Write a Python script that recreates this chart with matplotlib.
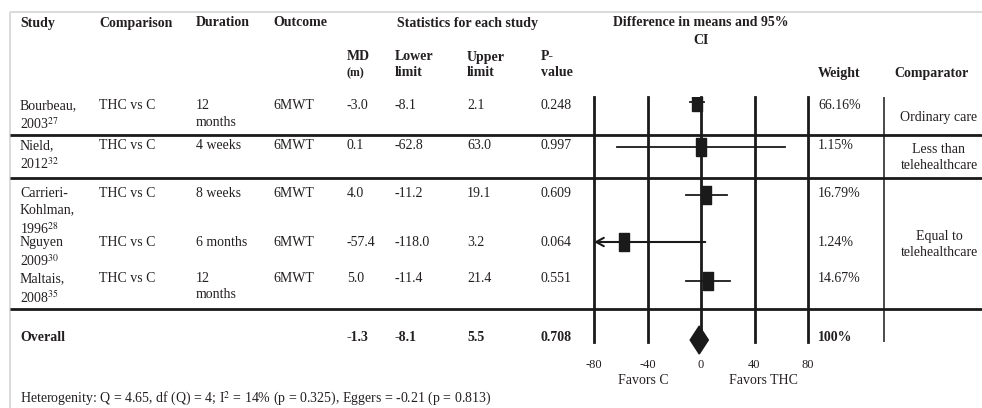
import matplotlib
matplotlib.use("Agg")
import matplotlib.pyplot as plt
from matplotlib.patches import Polygon

plt.rcParams['font.family'] = ['Liberation Serif', 'DejaVu Serif']
plt.rcParams['mathtext.fontset'] = 'stix'
plt.rcParams['axes.unicode_minus'] = False

# ---------------- data ----------------
studies = ["Bourbeau,\n2003$^{27}$", "Nield,\n2012$^{32}$",
           "Carrieri-\nKohlman,\n1996$^{28}$", "Nguyen\n2009$^{30}$",
           "Maltais,\n2008$^{35}$"]
comparison = ["THC vs C", "THC vs C", "THC vs C", "THC vs C", "THC vs C"]
duration = ["12\nmonths", "4 weeks", "8 weeks", "6 months", "12\nmonths"]
outcome = ["6MWT", "6MWT", "6MWT", "6MWT", "6MWT"]
md = [-3.0, 0.1, 4.0, -57.4, 5.0]
lower = [-8.1, -62.8, -11.2, -118.0, -11.4]
upper = [2.1, 63.0, 19.1, 3.2, 21.4]
pval = [0.248, 0.997, 0.609, 0.064, 0.551]
weight = ["66.16%", "1.15%", "16.79%", "1.24%", "14.67%"]
comparators = ["Ordinary care", "Less than\ntelehealthcare", "Equal to\ntelehealthcare"]
overall_md, overall_lo, overall_hi, overall_p, overall_w = -1.3, -8.1, 5.5, 0.708, "100%"
ticks = [-80, -40, 0, 40, 80]
tick_labels = ["-80", "-40", "0", "40", "80"]
footer = "Heterogenity: Q = 4.65, df (Q) = 4; I$^{2}$ = 14% (p = 0.325), Eggers = -0.21 (p = 0.813)"

# ---------------- layout (pixel coordinates) ----------------
W, H = 982, 408
TXT = '#231f20'
FS = 10
col_x = dict(study=20, comp=99, dur=196, out=273, md=347, lo=395, hi=467, p=541, w=818)
row_text_top = [99, 139, 187, 236, 272]
row_mark_y = [102, 147, 195, 242, 281]
overall_text_top = 331
overall_y = 340
comp_cells = [(97, 135), (135, 178), (178, 309)]
hlines = [135, 178, 309]
forest_top, forest_bot = 97, 342
fx0, fx1 = 594, 808

fig = plt.figure(figsize=(W / 100, H / 100), dpi=100)
ax = fig.add_axes([0, 0, 1, 1])
ax.set_xlim(0, W)
ax.set_ylim(H, 0)
ax.axis('off')

# light grey frame
ax.plot([10, 10], [12, H], color='#d4d4d4', lw=1.2, solid_capstyle='butt')
ax.plot([10, W], [12, 12], color='#d4d4d4', lw=1.2, solid_capstyle='butt')

# headers
hb = dict(fontsize=FS, fontweight='bold', color=TXT, va='center')
ax.text(col_x['study'], 23, "Study", **hb)
ax.text(col_x['comp'], 23, "Comparison", **hb)
ax.text(col_x['dur'], 23, "Duration", **hb)
ax.text(col_x['out'], 23, "Outcome", **hb)
ax.text(468, 23, "Statistics for each study", ha='center', **hb)
ax.text(701, 23, "Difference in means and 95%", ha='center', **hb)
ax.text(701, 40, "CI", ha='center', **hb)
ax.text(col_x['md'], 57, "MD", **hb)
ax.text(col_x['md'], 73, "(m)", fontsize=8.5, fontweight='bold', color=TXT, va='center')
ax.text(col_x['lo'], 57, "Lower", **hb)
ax.text(col_x['lo'], 73, "limit", **hb)
ax.text(col_x['hi'], 57, "Upper", **hb)
ax.text(col_x['hi'], 73, "limit", **hb)
ax.text(col_x['p'], 57, "P-", **hb)
ax.text(col_x['p'], 73, "value", **hb)
ax.text(col_x['w'], 73, "Weight", **hb)
ax.text(894, 73, "Comparator", **hb)

# study rows
tr = dict(fontsize=FS, color=TXT, va='top', linespacing=1.35)
for i in range(len(studies)):
    t = row_text_top[i]
    ax.text(col_x['study'], t, studies[i], **tr)
    ax.text(col_x['comp'], t, comparison[i], **tr)
    ax.text(col_x['dur'], t, duration[i], **tr)
    ax.text(col_x['out'], t, outcome[i], **tr)
    ax.text(col_x['md'], t, f"{md[i]:.1f}", **tr)
    ax.text(col_x['lo'], t, f"{lower[i]:.1f}", **tr)
    ax.text(col_x['hi'], t, f"{upper[i]:.1f}", **tr)
    ax.text(col_x['p'], t, f"{pval[i]:.3f}", **tr)
    ax.text(col_x['w'], t, weight[i], **tr)

# overall row
tb = dict(fontsize=FS, color=TXT, va='top', fontweight='bold')
ax.text(col_x['study'], overall_text_top, "Overall", **tb)
ax.text(col_x['md'], overall_text_top, f"{overall_md:.1f}", **tb)
ax.text(col_x['lo'], overall_text_top, f"{overall_lo:.1f}", **tb)
ax.text(col_x['hi'], overall_text_top, f"{overall_hi:.1f}", **tb)
ax.text(col_x['p'], overall_text_top, f"{overall_p:.3f}", **tb)
ax.text(col_x['w'], overall_text_top, overall_w, **tb)

# comparator cells
for (a, b), lab in zip(comp_cells, comparators):
    ax.text(939, (a + b) / 2 + 1, lab, fontsize=FS, color=TXT, ha='center',
            va='center', linespacing=1.3)

# rules
for y in hlines:
    ax.plot([10, W], [y, y], color='#1a1a1a', lw=2.0, solid_capstyle='butt')
ax.plot([884, 884], [forest_top, forest_bot], color='#1a1a1a', lw=1.1,
        solid_capstyle='butt')

# footer and axis captions
ax.text(20, 403, footer, fontsize=FS, color=TXT, va='baseline')
ax.text(643, 380, "Favors C", fontsize=FS, color=TXT, ha='center', va='center')
ax.text(763, 380, "Favors THC", fontsize=FS, color=TXT, ha='center', va='center')

# ---------------- forest plot ----------------
fa = fig.add_axes([fx0 / W, (H - forest_bot) / H, (fx1 - fx0) / W,
                   (forest_bot - forest_top) / H])
fa.set_xlim(ticks[0], ticks[-1])
fa.set_ylim(forest_bot, forest_top)
fa.patch.set_alpha(0)
for s in fa.spines.values():
    s.set_visible(False)
fa.set_yticks([])
fa.set_xticks(ticks)
fa.set_xticklabels(tick_labels, fontsize=9, color=TXT)
fa.tick_params(axis='x', length=0, pad=12)
for t in ticks:
    fa.axvline(t, color='#1a1a1a', lw=2.0, zorder=1, clip_on=False)

rect = [(-0.5, -1), (0.5, -1), (0.5, 1), (-0.5, 1), (-0.5, -1)]
for i in range(len(md)):
    y = row_mark_y[i]
    lo = max(lower[i], ticks[0])
    hi = min(upper[i], ticks[-1])
    if lower[i] < ticks[0]:
        fa.annotate('', xy=(lo, y), xytext=(hi, y),
                    arrowprops=dict(arrowstyle='->,head_length=0.55,head_width=0.3',
                                    lw=1.5, color='#1a1a1a', shrinkA=0, shrinkB=0),
                    zorder=3, annotation_clip=False)
    else:
        fa.plot([lo, hi], [y, y], color='#1a1a1a', lw=1.3, zorder=3)
    fa.plot([md[i]], [y], marker=rect, markersize=13.5, color='#1a1a1a',
            linestyle='none', zorder=4)

dia = Polygon([(overall_lo, overall_y), (overall_md, overall_y - 14),
               (overall_hi, overall_y), (overall_md, overall_y + 14)],
              closed=True, facecolor='#1a1a1a', edgecolor='#1a1a1a',
              zorder=4, clip_on=False)
fa.add_patch(dia)

fig.savefig("out.png", dpi=100)
